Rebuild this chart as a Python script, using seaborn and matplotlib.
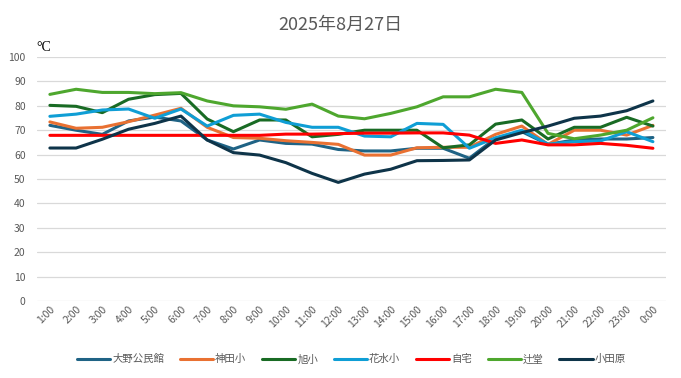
import pandas as pd
import matplotlib
matplotlib.use("Agg")
import matplotlib.pyplot as plt
import seaborn as sns

hours = ["1:00", "2:00", "3:00", "4:00", "5:00", "6:00", "7:00", "8:00",
         "9:00", "10:00", "11:00", "12:00", "13:00", "14:00", "15:00", "16:00",
         "17:00", "18:00", "19:00", "20:00", "21:00", "22:00", "23:00", "0:00"]

ono = [72, 70, 68.3, 73.8, 75.4, 73.8, 66, 62.3, 66, 64.6, 64.3, 62.1,
       61.5, 61.5, 62.6, 62.6, 58.5, 66.7, 69.4, 64.2, 66, 66.4, 66.4, 67]
kanda = [73.4, 70.8, 71.2, 73.5, 76.2, 79, 71.2, 67, 66.7, 65.7, 65, 64.2,
         59.8, 59.8, 62.8, 63, 63, 68.3, 71.7, 64.2, 70, 70, 68, 72]
asahi = [80.2, 79.8, 77.2, 82.7, 84.6, 85.1, 74.6, 69.4, 74.2, 74.2, 67.3, 68.3,
         70, 70, 70, 62.8, 64, 72.5, 74.2, 66.4, 71.2, 71.2, 75.3, 71.7]
hanamizu = [75.7, 76.6, 78.3, 78.7, 74.9, 78.7, 71.7, 76.1, 76.6, 73.2, 71.2, 71.2,
            67.6, 67.3, 72.8, 72.4, 62.6, 66.9, 70, 64.3, 65.3, 65.6, 69.4, 65.3]
jitaku = [67.9, 67.9, 67.9, 67.9, 67.9, 67.9, 67.9, 67.9, 67.9, 68.4, 68.4, 68.6,
          68.8, 68.8, 68.9, 68.9, 68, 64.6, 66, 64, 64, 64.6, 63.8, 62.6]
tsujido = [84.7, 86.8, 85.5, 85.5, 85, 85.4, 82, 80, 79.6, 78.6, 80.7, 75.8,
           74.7, 76.9, 79.6, 83.7, 83.7, 86.8, 85.5, 68.7, 66.5, 68, 70, 75.1]
odawara = [62.7, 62.7, 66.3, 70.4, 72.8, 75.8, 66, 60.8, 59.8, 56.7, 52.3, 48.6,
           52, 54, 57.5, 57.6, 57.8, 66, 69, 71.7, 74.9, 75.8, 78, 82]

names = ["大野公民館", "神田小", "旭小", "花水小", "自宅", "辻堂", "小田原"]
colors = ["#1F6385", "#E97132", "#196B24", "#0F9ED5", "#FF0000", "#4EA72E", "#0E3449"]
series = [ono, kanda, asahi, hanamizu, jitaku, tsujido, odawara]

rows = []
for name, vals in zip(names, series):
    for h, v in zip(hours, vals):
        rows.append({"hour": h, "temp": v, "site": name})
df = pd.DataFrame(rows)

sns.set_style("white")
plt.rcParams["font.family"] = ["Noto Sans CJK JP", "DejaVu Sans"]

fig = plt.figure(figsize=(6.81, 3.78), dpi=100)
ax = fig.add_axes([0.054, 0.204, 0.924, 0.645])

sns.lineplot(data=df, x="hour", y="temp", hue="site", hue_order=names,
             palette=colors, linewidth=2.2, sort=False, ax=ax)

ax.set_xlim(-0.5, len(hours) - 0.5)
ax.set_ylim(0, 100)
ax.set_yticks(range(0, 101, 10))
ax.grid(axis="y", color="#D9D9D9", linewidth=0.9)
ax.grid(axis="x", visible=False)
for s in ax.spines.values():
    s.set_visible(False)
ax.set_xlabel("")
ax.set_ylabel("")
ax.tick_params(axis="y", labelsize=7.5, labelcolor="#595959", length=0, pad=8)
ax.tick_params(axis="x", labelsize=7.5, labelcolor="#595959", length=0, pad=2)
plt.setp(ax.get_xticklabels(), rotation=45, ha="right", rotation_mode="anchor")

fig.text(0.5, 0.935, "2025年8月27日", ha="center", va="center",
         fontsize=13, color="#595959")
fig.text(0.053, 0.875, "°C", ha="left", va="center", fontsize=10,
         family=["Liberation Serif", "DejaVu Serif"], color="#000000")

ax.legend(loc="upper center", bbox_to_anchor=(0.5, -0.18), ncol=7, frameon=False,
          fontsize=7.5, handlelength=3.2, handletextpad=0.2, columnspacing=1.5,
          labelcolor="#595959")

fig.savefig("out.png", dpi=100)
